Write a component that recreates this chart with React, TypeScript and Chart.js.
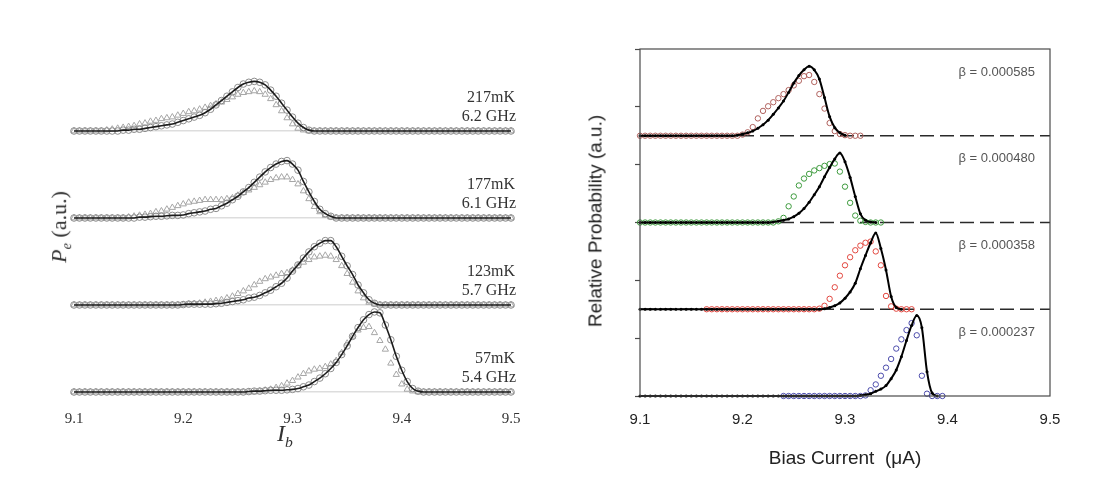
import { useEffect, useRef } from "react"
import { Chart, registerables } from "chart.js"

Chart.register(...registerables)

// bias current grid (uA), 0.005 steps
const ibGrid = [
  9.1, 9.105, 9.11, 9.115, 9.12, 9.125, 9.13, 9.135, 9.14, 9.145,
  9.15, 9.155, 9.16, 9.165, 9.17, 9.175, 9.18, 9.185, 9.19, 9.195,
  9.2, 9.205, 9.21, 9.215, 9.22, 9.225, 9.23, 9.235, 9.24, 9.245,
  9.25, 9.255, 9.26, 9.265, 9.27, 9.275, 9.28, 9.285, 9.29, 9.295,
  9.3, 9.305, 9.31, 9.315, 9.32, 9.325, 9.33, 9.335, 9.34, 9.345,
  9.35, 9.355, 9.36, 9.365, 9.37, 9.375, 9.38, 9.385, 9.39, 9.395,
  9.4, 9.405, 9.41, 9.415, 9.42, 9.425, 9.43, 9.435, 9.44, 9.445,
  9.45, 9.455, 9.46, 9.465, 9.47, 9.475, 9.48, 9.485, 9.49, 9.495,
  9.5,
]
const biasGrid = ibGrid.slice(0, 61)

const xTicks = [9.1, 9.2, 9.3, 9.4, 9.5]

// ---- left panel: Pe vs Ib, circles (data), triangles (data), solid fit ----
const leftTemps = ["217mK", "177mK", "123mK", "57mK"]
const leftFreqs = ["6.2 GHz", "6.1 GHz", "5.7 GHz", "5.4 GHz"]
const leftOffsets = [3, 2, 1, 0]

const circ217 = [
  0, 0, 0, 0, 0, 0, 0, 0, 0, 0.01,
  0.01, 0.02, 0.02, 0.03, 0.04, 0.05, 0.06, 0.07, 0.08, 0.1,
  0.12, 0.14, 0.16, 0.18, 0.21, 0.25, 0.3, 0.35, 0.4, 0.45,
  0.5, 0.54, 0.56, 0.57, 0.56, 0.53, 0.47, 0.4, 0.32, 0.24,
  0.16, 0.09, 0.04, 0.01, 0, 0, 0, 0, 0, 0,
  0, 0, 0, 0, 0, 0, 0, 0, 0, 0,
  0, 0, 0, 0, 0, 0, 0, 0, 0, 0,
  0, 0, 0, 0, 0, 0, 0, 0, 0, 0,
  0,
]
const tri217 = [
  0, 0, 0, 0, 0, 0, 0.01, 0.02, 0.03, 0.04,
  0.05, 0.06, 0.08, 0.09, 0.11, 0.12, 0.14, 0.15, 0.16, 0.18,
  0.2, 0.22, 0.23, 0.25, 0.27, 0.29, 0.31, 0.33, 0.36, 0.39,
  0.42, 0.44, 0.45, 0.46, 0.45, 0.42, 0.37, 0.3, 0.23, 0.15,
  0.08, 0.03, 0.01, 0, 0, 0, 0, 0, 0, 0,
  0, 0, 0, 0, 0, 0, 0, 0, 0, 0,
  0, 0, 0, 0, 0, 0, 0, 0, 0, 0,
  0, 0, 0, 0, 0, 0, 0, 0, 0, 0,
  0,
]
const circ177 = [
  0, 0, 0, 0, 0, 0, 0, 0, 0, 0,
  0, 0, 0.01, 0.01, 0.015, 0.02, 0.02, 0.025, 0.03, 0.03,
  0.035, 0.05, 0.06, 0.07, 0.08, 0.1, 0.11, 0.14, 0.17, 0.21,
  0.25, 0.3, 0.35, 0.41, 0.47, 0.53, 0.58, 0.62, 0.65, 0.66,
  0.62, 0.55, 0.42, 0.3, 0.19, 0.1, 0.05, 0.02, 0, 0,
  0, 0, 0, 0, 0, 0, 0, 0, 0, 0,
  0, 0, 0, 0, 0, 0, 0, 0, 0, 0,
  0, 0, 0, 0, 0, 0, 0, 0, 0, 0,
  0,
]
const tri177 = [
  0, 0, 0, 0, 0, 0, 0, 0, 0, 0,
  0.01, 0.02, 0.03, 0.04, 0.05, 0.07, 0.08, 0.1, 0.12, 0.14,
  0.16, 0.18, 0.19, 0.2, 0.21, 0.21, 0.21, 0.21, 0.22, 0.23,
  0.26, 0.29, 0.32, 0.35, 0.38, 0.41, 0.44, 0.46, 0.47, 0.47,
  0.44, 0.39, 0.31, 0.22, 0.13, 0.07, 0.03, 0.01, 0, 0,
  0, 0, 0, 0, 0, 0, 0, 0, 0, 0,
  0, 0, 0, 0, 0, 0, 0, 0, 0, 0,
  0, 0, 0, 0, 0, 0, 0, 0, 0, 0,
  0,
]
const circ123 = [
  0, 0, 0, 0, 0, 0, 0, 0, 0, 0,
  0, 0, 0, 0, 0, 0, 0, 0, 0, 0,
  0.005, 0.01, 0.01, 0.01, 0.01, 0.01, 0.015, 0.02, 0.03, 0.04,
  0.05, 0.06, 0.08, 0.09, 0.11, 0.14, 0.17, 0.21, 0.25, 0.31,
  0.39, 0.46, 0.54, 0.61, 0.67, 0.71, 0.74, 0.74, 0.67, 0.56,
  0.45, 0.35, 0.23, 0.14, 0.06, 0.02, 0, 0, 0, 0,
  0, 0, 0, 0, 0, 0, 0, 0, 0, 0,
  0, 0, 0, 0, 0, 0, 0, 0, 0, 0,
  0,
]
const tri123 = [
  0, 0, 0, 0, 0, 0, 0, 0, 0, 0,
  0, 0, 0, 0, 0, 0, 0, 0, 0, 0,
  0.005, 0.01, 0.015, 0.02, 0.03, 0.04, 0.05, 0.06, 0.08, 0.1,
  0.13, 0.16, 0.19, 0.23, 0.27, 0.3, 0.32, 0.34, 0.36, 0.37,
  0.4, 0.45, 0.49, 0.52, 0.55, 0.56, 0.57, 0.56, 0.52, 0.45,
  0.36, 0.26, 0.16, 0.08, 0.03, 0.01, 0, 0, 0, 0,
  0, 0, 0, 0, 0, 0, 0, 0, 0, 0,
  0, 0, 0, 0, 0, 0, 0, 0, 0, 0,
  0,
]
const circ57 = [
  0, 0, 0, 0, 0, 0, 0, 0, 0, 0,
  0, 0, 0, 0, 0, 0, 0, 0, 0, 0,
  0, 0, 0, 0, 0, 0, 0, 0, 0, 0,
  0, 0, 0.005, 0.01, 0.01, 0.015, 0.02, 0.02, 0.02, 0.025,
  0.03, 0.04, 0.06, 0.08, 0.12, 0.16, 0.21, 0.27, 0.34, 0.43,
  0.53, 0.64, 0.74, 0.83, 0.89, 0.92, 0.91, 0.77, 0.6, 0.41,
  0.25, 0.12, 0.04, 0.01, 0, 0, 0, 0, 0, 0,
  0, 0, 0, 0, 0, 0, 0, 0, 0, 0,
  0,
]
const tri57 = [
  0, 0, 0, 0, 0, 0, 0, 0, 0, 0,
  0, 0, 0, 0, 0, 0, 0, 0, 0, 0,
  0, 0, 0, 0, 0, 0, 0, 0, 0, 0,
  0, 0, 0, 0, 0.01, 0.02, 0.03, 0.05, 0.07, 0.1,
  0.13, 0.17, 0.21, 0.24, 0.26, 0.27, 0.29, 0.32, 0.36, 0.45,
  0.56, 0.64, 0.71, 0.74, 0.75, 0.68, 0.59, 0.49, 0.33, 0.2,
  0.09, 0.03, 0.01, 0, 0, 0, 0, 0, 0, 0,
  0, 0, 0, 0, 0, 0, 0, 0, 0, 0,
  0,
]
const leftCircles = [circ217, circ177, circ123, circ57]
const leftTriangles = [tri217, tri177, tri123, tri57]

// ---- right panel: relative probability vs bias current ----
const betaLabels = ["β = 0.000585", "β = 0.000480", "β = 0.000358", "β = 0.000237"]
const rightOffsets = [4.5, 3, 1.5, 0]
const rightColors = ["#b0625e", "#3c9a3c", "#e2473f", "#4b4bab"]

const sim585 = [
  0, 0, 0, 0, 0, 0, 0, 0, 0, 0,
  0, 0, 0, 0, 0, 0, 0, 0, 0, 0.01,
  0.03, 0.05, 0.08, 0.13, 0.19, 0.27, 0.37, 0.48, 0.6, 0.75,
  0.91, 1.04, 1.14, 1.2, 1.14, 0.98, 0.66, 0.33, 0.14, 0.05,
  0.01, null, null, null, null, null, null, null, null, null,
  null, null, null, null, null, null, null, null, null, null,
  null,
]
const meas585 = [
  0, 0, 0, 0, 0, 0, 0, 0, 0, 0,
  0, 0, 0, 0, 0, 0, 0, 0, 0, 0,
  0.02, 0.06, 0.15, 0.3, 0.43, 0.51, 0.58, 0.65, 0.72, 0.79,
  0.87, 0.95, 1.03, 1.05, 0.93, 0.72, 0.47, 0.22, 0.08, 0.03,
  0.01, 0, 0, 0, null, null, null, null, null, null,
  null, null, null, null, null, null, null, null, null, null,
  null,
]
const sim480 = [
  0, 0, 0, 0, 0, 0, 0, 0, 0, 0,
  0, 0, 0, 0, 0, 0, 0, 0, 0, 0,
  0, 0, 0, 0, 0, 0, 0.01, 0.02, 0.04, 0.06,
  0.1, 0.16, 0.24, 0.35, 0.48, 0.62, 0.79, 0.95, 1.1, 1.2,
  1.05, 0.78, 0.45, 0.15, 0.04, 0.01, 0, null, null, null,
  null, null, null, null, null, null, null, null, null, null,
  null,
]
const meas480 = [
  0, 0, 0, 0, 0, 0, 0, 0, 0, 0,
  0, 0, 0, 0, 0, 0, 0, 0, 0, 0,
  0, 0, 0, 0, 0, 0, 0, 0.02, 0.08, 0.28,
  0.45, 0.64, 0.76, 0.84, 0.9, 0.94, 0.98, 1.01, 1.02, 0.88,
  0.62, 0.34, 0.12, 0.03, 0.01, 0, 0, 0, null, null,
  null, null, null, null, null, null, null, null, null, null,
  null,
]
const sim358 = [
  0, 0, 0, 0, 0, 0, 0, 0, 0, 0,
  0, 0, 0, 0, 0, 0, 0, 0, 0, 0,
  0, 0, 0, 0, 0, 0, 0, 0, 0, 0,
  0, 0, 0, 0, 0, 0, 0.01, 0.03, 0.06, 0.11,
  0.19, 0.3, 0.45, 0.7, 0.93, 1.15, 1.32, 1.05, 0.68, 0.22,
  0.03, 0, null, null, null, null, null, null, null, null,
  null,
]
const meas358 = [
  null, null, null, null, null, null, null, null, null, null,
  null, null, null, 0, 0, 0, 0, 0, 0, 0,
  0, 0, 0, 0, 0, 0, 0, 0, 0, 0,
  0, 0, 0, 0, 0, 0.01, 0.06, 0.18, 0.38, 0.58,
  0.76, 0.9, 1.02, 1.1, 1.15, 1.17, 1.0, 0.76, 0.23, 0.05,
  0.01, 0, 0, 0, null, null, null, null, null, null,
  null,
]
const sim237 = [
  0, 0, 0, 0, 0, 0, 0, 0, 0, 0,
  0, 0, 0, 0, 0, 0, 0, 0, 0, 0,
  0, 0, 0, 0, 0, 0, 0, 0, 0, 0,
  0, 0, 0, 0, 0, 0, 0, 0, 0, 0,
  0, 0, 0, 0.01, 0.02, 0.04, 0.08, 0.12, 0.18, 0.3,
  0.45, 0.68, 0.96, 1.22, 1.39, 1.18, 0.42, 0.05, 0, null,
  null,
]
const meas237 = [
  null, null, null, null, null, null, null, null, null, null,
  null, null, null, null, null, null, null, null, null, null,
  null, null, null, null, null, null, null, null, 0, 0,
  0, 0, 0, 0, 0, 0, 0, 0, 0, 0,
  0, 0, 0, 0, 0.01, 0.1, 0.2, 0.35, 0.49, 0.64,
  0.82, 0.98, 1.14, 1.26, 1.05, 0.35, 0.04, 0, 0, 0,
  null,
]
const rightSim = [sim585, sim480, sim358, sim237]
const rightMeas = [meas585, meas480, meas358, meas237]

const serif = '"Liberation Serif", "DejaVu Serif", serif'
const sans = '"Liberation Sans", Arial, sans-serif'

const toPoints = (xs: number[], ys: (number | null)[], offset: number) =>
  xs.map((x, i) => ({ x, y: ys[i] == null ? null : (ys[i] as number) + offset }))

// draws short text labels anchored on the data scales
const panelLabels = {
  id: "panelLabels",
  afterDatasetsDraw(chart: any, _args: any, opts: any) {
    const { ctx, scales } = chart
    ctx.save()
    ctx.font = opts.font
    ctx.fillStyle = opts.color
    ctx.textAlign = "right"
    ctx.textBaseline = "middle"
    for (const item of opts.items || []) {
      ctx.fillText(item.text, scales.x.getPixelForValue(item.x) + item.dx, scales.y.getPixelForValue(item.y))
    }
    ctx.restore()
  },
}

const frame = {
  id: "frame",
  afterDraw(chart: any, _args: any, opts: any) {
    if (!opts.show) return
    const { ctx, chartArea } = chart
    ctx.save()
    ctx.strokeStyle = "#4a4a4a"
    ctx.lineWidth = 1.2
    ctx.strokeRect(chartArea.left, chartArea.top, chartArea.right - chartArea.left, chartArea.bottom - chartArea.top)
    ctx.restore()
  },
}

function LeftPanel() {
  const canvasRef = useRef<HTMLCanvasElement>(null)
  const chartRef = useRef<Chart | null>(null)

  useEffect(() => {
    if (!canvasRef.current) return
    if (chartRef.current) chartRef.current.destroy()

    const fits = leftCircles.map((c, k) => ({
      data: toPoints(ibGrid, c, leftOffsets[k]),
      borderColor: "#1c1c1c",
      borderWidth: 1.6,
      pointRadius: 0,
      cubicInterpolationMode: "monotone",
      clip: false,
    }))
    const circles = leftCircles.map((c, k) => ({
      data: toPoints(ibGrid, c, leftOffsets[k]),
      showLine: false,
      pointStyle: "circle",
      pointRadius: 3.3,
      pointBorderWidth: 1,
      pointBorderColor: "#8c8c8c",
      pointBackgroundColor: "rgba(255,255,255,0)",
      clip: false,
    }))
    const triangles = leftTriangles.map((t, k) => ({
      data: toPoints(ibGrid, t, leftOffsets[k]),
      showLine: false,
      pointStyle: "triangle",
      pointRadius: 3.6,
      pointBorderWidth: 1,
      pointBorderColor: "#a6a6a6",
      pointBackgroundColor: "rgba(255,255,255,0)",
      clip: false,
    }))

    const items: any[] = []
    leftOffsets.forEach((off, k) => {
      items.push({ text: leftTemps[k], x: 9.5, dx: 4, y: off + 0.38 })
      items.push({ text: leftFreqs[k], x: 9.5, dx: 5, y: off + 0.16 })
    })

    chartRef.current = new Chart(canvasRef.current, {
      type: "line",
      data: { datasets: [...fits, ...circles, ...triangles] as any },
      plugins: [panelLabels],
      options: {
        animation: false,
        responsive: true,
        maintainAspectRatio: false,
        layout: { padding: { top: 44, right: 49, left: 0, bottom: 0 } },
        plugins: {
          legend: { display: false },
          tooltip: { enabled: false },
          panelLabels: { items, font: `16px ${serif}`, color: "#333" },
        } as any,
        scales: {
          x: {
            type: "linear",
            min: 9.1,
            max: 9.5,
            grid: { display: false },
            border: { display: false },
            afterBuildTicks: (axis: any) => {
              axis.ticks = xTicks.map((v) => ({ value: v }))
            },
            ticks: {
              padding: 1,
              color: "#333",
              font: { family: serif, size: 15 },
              callback: (v: any) => Number(v).toFixed(1),
            },
            afterFit: (s: any) => {
              s.height = 100.3
            },
          },
          y: {
            min: -0.1,
            max: 4,
            border: { display: false },
            grid: { color: "#dddddd", lineWidth: 1.5, drawTicks: false },
            ticks: { display: false },
            afterBuildTicks: (axis: any) => {
              axis.ticks = leftOffsets.map((v) => ({ value: v }))
            },
            afterFit: (s: any) => {
              s.width = 74
            },
          },
        },
      },
    })

    return () => {
      if (chartRef.current) chartRef.current.destroy()
      chartRef.current = null
    }
  }, [])

  return (
    <div style={{ position: "absolute", left: 0, top: 0, width: 560, height: 501 }}>
      <canvas ref={canvasRef}></canvas>
    </div>
  )
}

function RightPanel() {
  const canvasRef = useRef<HTMLCanvasElement>(null)
  const chartRef = useRef<Chart | null>(null)

  useEffect(() => {
    if (!canvasRef.current) return
    if (chartRef.current) chartRef.current.destroy()

    const sims = rightSim.map((s, k) => ({
      data: toPoints(biasGrid, s, rightOffsets[k]),
      borderColor: "#000",
      borderWidth: 2,
      pointRadius: 1.5,
      pointBorderWidth: 0,
      pointBackgroundColor: "#000",
      cubicInterpolationMode: "monotone",
      clip: false,
    }))
    const meas = rightMeas.map((m, k) => ({
      data: toPoints(biasGrid, m, rightOffsets[k]),
      showLine: false,
      pointStyle: "circle",
      pointRadius: 2.7,
      pointBorderWidth: 1,
      pointBorderColor: rightColors[k],
      pointBackgroundColor: "rgba(255,255,255,0)",
      clip: false,
    }))
    const dashes = rightOffsets
      .filter((off) => off > 0)
      .map((off) => ({
        data: [
          { x: 9.1, y: off },
          { x: 9.5, y: off },
        ],
        borderColor: "#2a2a2a",
        borderWidth: 1.5,
        borderDash: [14, 6],
        pointRadius: 0,
      }))

    const items = rightOffsets.map((off, k) => ({ text: betaLabels[k], x: 9.5, dx: -15, y: off + 1.1 }))

    chartRef.current = new Chart(canvasRef.current, {
      type: "line",
      data: { datasets: [...sims, ...meas, ...dashes] as any },
      plugins: [panelLabels, frame],
      options: {
        animation: false,
        responsive: true,
        maintainAspectRatio: false,
        layout: { padding: { top: 49, right: 51, left: 0, bottom: 0 } },
        plugins: {
          legend: { display: false },
          tooltip: { enabled: false },
          panelLabels: { items, font: `13px ${sans}`, color: "#555" },
          frame: { show: true },
        } as any,
        scales: {
          x: {
            type: "linear",
            min: 9.1,
            max: 9.5,
            grid: { display: false },
            border: { display: false },
            afterBuildTicks: (axis: any) => {
              axis.ticks = xTicks.map((v) => ({ value: v }))
            },
            ticks: {
              padding: 7,
              color: "#222",
              font: { family: sans, size: 15 },
              callback: (v: any) => Number(v).toFixed(1),
            },
            afterFit: (s: any) => {
              s.height = 105
            },
          },
          y: {
            min: 0,
            max: 6,
            border: { display: false },
            grid: { drawOnChartArea: false, drawTicks: true, tickLength: 5, tickColor: "#4a4a4a", tickWidth: 1.2 },
            ticks: { stepSize: 1, padding: 0, callback: () => "" },
            afterFit: (s: any) => {
              s.width = 80
            },
          },
        },
      },
    })

    return () => {
      if (chartRef.current) chartRef.current.destroy()
      chartRef.current = null
    }
  }, [])

  return (
    <div style={{ position: "absolute", left: 560, top: 0, width: 541, height: 501 }}>
      <canvas ref={canvasRef}></canvas>
    </div>
  )
}

export default function App() {
  return (
    <div
      style={{
        position: "fixed",
        left: 0,
        top: 0,
        width: 1101,
        height: 501,
        background: "#fff",
        overflow: "hidden",
      }}
    >
      <LeftPanel />
      <RightPanel />

      {/* left axis titles */}
      <div
        style={{
          position: "absolute",
          left: 61,
          top: 227,
          transform: "translate(-50%, -50%) rotate(-90deg)",
          whiteSpace: "nowrap",
          fontFamily: serif,
          fontSize: 22,
          color: "#333",
          lineHeight: 1,
        }}
      >
        <i>P</i>
        <sub style={{ fontSize: "0.65em", fontStyle: "italic" }}>e</sub> (a.u.)
      </div>
      <div
        style={{
          position: "absolute",
          left: 277,
          top: 421,
          whiteSpace: "nowrap",
          fontFamily: serif,
          fontSize: 24,
          color: "#333",
          lineHeight: 1,
        }}
      >
        <i>I</i>
        <sub style={{ fontSize: "0.65em", fontStyle: "italic" }}>b</sub>
      </div>

      {/* right axis titles */}
      <div
        style={{
          position: "absolute",
          left: 595,
          top: 221,
          transform: "translate(-50%, -50%) rotate(-90deg)",
          whiteSpace: "nowrap",
          fontFamily: sans,
          fontSize: 19,
          color: "#222",
          lineHeight: 1,
        }}
      >
        Relative Probability (a.u.)
      </div>
      <div
        style={{
          position: "absolute",
          left: 845,
          top: 457,
          transform: "translate(-50%, -50%)",
          whiteSpace: "pre",
          fontFamily: sans,
          fontSize: 19,
          color: "#222",
          lineHeight: 1,
        }}
      >
        {"Bias Current  (μA)"}
      </div>
    </div>
  )
}
